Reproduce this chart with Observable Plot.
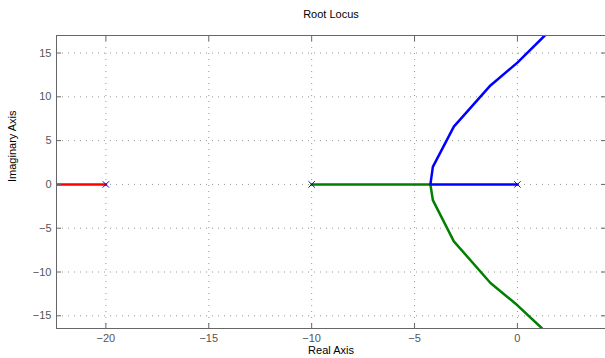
<!DOCTYPE html>
<html><head><meta charset="utf-8">
<script src="https://cdn.jsdelivr.net/npm/d3@7"></script>
<script src="https://cdn.jsdelivr.net/npm/@observablehq/plot@0.6"></script>
<style>body{margin:0;background:#fff}</style>
</head><body><div id="chart"></div>
<script>
const xTicks = [-20, -15, -10, -5, 0];
const yTicks = [-15, -10, -5, 0, 5, 10, 15];
const poles = [0, -10, -20];
const blueRe = [0, -4.23, -4.11, -3.09, -1.31, 0, 1.33];
const blueIm = [0, 0, 2.0, 6.6, 11.3, 13.9, 17.0];
const greenRe = [-10, -4.23, -4.11, -3.09, -1.31, 0, 1.2];
const greenIm = [0, 0, -1.8, -6.5, -11.25, -13.8, -16.45];
const redRe = [-20, -22.4];
const redIm = [0, 0];

const toPts = (re, im) => re.map((r, i) => ({x: r, y: im[i]}));
const fmt = d => d < 0 ? "\u2212" + Math.abs(d) : String(d);
const xDom = [-22.4, 4.28], yDom = [-16.45, 17];

const chart = Plot.plot({
  width: 605, height: 358,
  marginLeft: 56, marginRight: 0, marginTop: 35, marginBottom: 30,
  style: {fontFamily: "'Liberation Sans', Arial, sans-serif", fontSize: "11px", background: "#fff"},
  x: {domain: xDom},
  y: {domain: yDom},
  marks: [
    Plot.gridX(xTicks, {stroke: "#999", strokeOpacity: 1, strokeDasharray: "1,5"}),
    Plot.gridY(yTicks, {stroke: "#999", strokeOpacity: 1, strokeDasharray: "1,5"}),
    Plot.line(toPts(redRe, redIm), {x: "x", y: "y", stroke: "#ff0000", strokeWidth: 2.5, clip: true}),
    Plot.line(toPts(greenRe, greenIm), {x: "x", y: "y", stroke: "#008000", strokeWidth: 2.5, clip: true}),
    Plot.line(toPts(blueRe, blueIm), {x: "x", y: "y", stroke: "#0000ff", strokeWidth: 2.5, clip: true}),
    Plot.dot(poles, {x: d => d, y: 0, symbol: "times", r: 3, stroke: "#0000ff", strokeWidth: 1}),
    Plot.axisX(xTicks, {anchor: "bottom", tickSize: -5, tickPadding: 11, tickFormat: fmt, stroke: "#666", color: "#555", label: null}),
    Plot.axisX(xTicks, {anchor: "top", tickSize: -5, text: null, stroke: "#666", label: null}),
    Plot.axisY(yTicks, {anchor: "left", tickSize: -5, tickPadding: 10, tickFormat: fmt, stroke: "#666", color: "#555", label: null}),
    Plot.axisY(yTicks, {anchor: "right", tickSize: -5, text: null, stroke: "#666", label: null}),
    Plot.frame({stroke: "#666"}),
    Plot.text(["Root Locus"], {frameAnchor: "top", dy: -25, fill: "#000", fontSize: 11}),
    Plot.text(["Real Axis"], {frameAnchor: "bottom", dy: 25, fill: "#000", fontSize: 11}),
    Plot.text(["Imaginary Axis"], {frameAnchor: "left", dx: -44, rotate: -90, fill: "#000", fontSize: 11})
  ]
});
document.getElementById("chart").appendChild(chart);
</script>
</body></html>
